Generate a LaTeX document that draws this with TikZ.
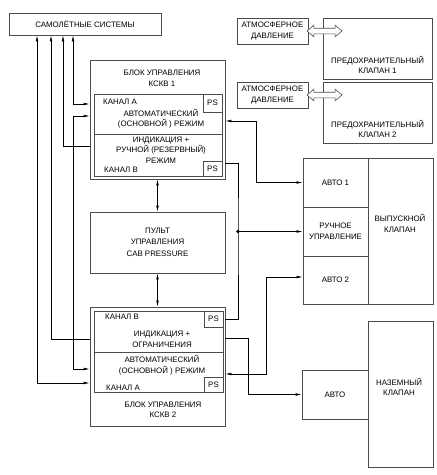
\documentclass[tikz,border=0pt]{standalone}
\usepackage{fontspec}
\setmainfont{Liberation Sans}
\usetikzlibrary{arrows.meta,shapes.arrows}
\begin{document}
\begin{tikzpicture}[
        x=1pt, y=-1pt,
        every node/.style={font=\fontsize{7.9}{10.5}\selectfont, inner sep=0pt, align=center},
        frame/.style={draw=black!70, line width=0.6pt, fill=white},
        wh/.style 2 args={minimum width=#1pt, minimum height=#2pt},
        chanlbl/.style={anchor=west},
        fatarr/.style={double arrow, draw=black!70, fill=white, line width=0.6pt,
          minimum height=35pt, inner sep=2.5pt, double arrow head extend=3pt,
          double arrow tip angle=80},
        link/.style={draw=black, line width=0.6pt},
        >={Latex[length=6pt,width=2.6pt]}
      ]
      \useasboundingbox (0,0) rectangle (437,475);
      \def\psw{19}
      \node[frame, wh={152}{22}] (sys) at (85,24) {САМОЛЁТНЫЕ СИСТЕМЫ};
      \node[frame, wh={135}{119}] (k1) at (157.5,119.5) {};
      \node (k1t) at (162,78.5) {БЛОК УПРАВЛЕНИЯ\\КСКВ 1};
      \node[frame, wh={128}{40}] (k1a) at (158,114) {};
      \node[frame, wh={128}{42}] (k1b) at (158,155) {};
      \node[frame, wh={\psw}{18}] (k1psa) at (212.5,103) {PS};
      \node[frame, wh={\psw}{15}] (k1psb) at (212.5,168.5) {PS};
      \node[chanlbl] (k1na) at (103,102) {КАНАЛ А};
      \node (k1aut) at (161,118.5) {АВТОМАТИЧЕСКИЙ\\(ОСНОВНОЙ ) РЕЖИМ};
      \node (k1ind) at (161,150) {ИНДИКАЦИЯ +\\РУЧНОЙ (РЕЗЕРВНЫЙ)\\РЕЖИМ};
      \node[chanlbl] (k1nb) at (104,170) {КАНАЛ В};
      \node[frame, wh={135}{61}] (pult) at (157.5,242.5) {ПУЛЬТ\\УПРАВЛЕНИЯ\\[1.5pt]CAB PRESSURE};
      \node[frame, wh={135}{119}] (k2) at (157.5,366.5) {};
      \node[frame, wh={129}{41}] (k2b) at (158.5,331.5) {};
      \node[frame, wh={129}{40}] (k2a) at (158.5,372) {};
      \node[frame, wh={\psw}{16}] (k2psb) at (213.5,319) {PS};
      \node[frame, wh={\psw}{15}] (k2psa) at (213.5,384.5) {PS};
      \node[chanlbl] (k2nb) at (105,317) {КАНАЛ В};
      \node (k2ind) at (162,339.5) {ИНДИКАЦИЯ +\\ОГРАНИЧЕНИЯ};
      \node (k2aut) at (162,365) {АВТОМАТИЧЕСКИЙ\\(ОСНОВНОЙ ) РЕЖИМ};
      \node[chanlbl] (k2na) at (106,388) {КАНАЛ А};
      \node (k2t) at (163,410) {БЛОК УПРАВЛЕНИЯ\\КСКВ 2};
      \foreach \i/\yy in {1/0, 2/64} {
        \node[frame, wh={71}{26}] (atm\i) at (272.5,31+\yy) {АТМОСФЕРНОЕ\\ДАВЛЕНИЕ};
        \node[frame, wh={109}{61}] (pk\i) at (377.5,48.5+\yy) {};
        \node (pk\i t) at (377.5,65+\yy) {ПРЕДОХРАНИТЕЛЬНЫЙ\\КЛАПАН \i};
        \node[fatarr] (pv\i) at (324.5,31+\yy) {};
      }
      \node[frame, wh={65}{49}] (vk1) at (335.5,182.5) {АВТО 1};
      \node[frame, wh={65}{49}] (vkr) at (335.5,231.5) {РУЧНОЕ\\УПРАВЛЕНИЕ};
      \node[frame, wh={65}{48}] (vk2) at (335.5,280) {АВТО 2};
      \node[frame, wh={65}{146}] (vkv) at (400.5,231) {};
      \node (vkvt) at (400,223.5) {ВЫПУСКНОЙ\\КЛАПАН};
      \node[frame, wh={66}{49}] (nav) at (335,394.5) {АВТО};
      \node[frame, wh={65}{146}] (nk) at (400.5,394) {};
      \node (nkt) at (399,387) {НАЗЕМНЫЙ\\КЛАПАН};
      \draw[link, <->] (sys.south -| 37,0) |- (k2.west |- 0,383);
      \draw[link, ->] (k2.west |- 0,339) -| (sys.south -| 51,0);
      \draw[link, ->] (k1.west |- 0,146) -| (sys.south -| 63,0);
      \draw[link, <->] (sys.south -| 73,0) |- (k1.west |- 0,104);
      \draw[link, <->] (k1.west |- 0,116) -- (73,116) |- (k2.west |- 0,369);
      \draw[link, <->] (k1.south) -- (pult.north);
      \draw[link, <->] (pult.south) -- (k2.north);
      \draw[link, <->] (k1.east |- 0,121) -| (256,182.5) -- (vk1.west);
      \coordinate (jn) at (vkr.west -| 238,0);
      \draw[link] (k1.east |- 0,163) -| (jn) |- (k2.east |- 0,319);
      \draw[link, ->] (jn) -- (vkr.west);
      \fill (jn) circle[radius=1.8pt];
      \draw[link, <->] (k2.east |- 0,374) -| (266,277) -- (vk2.west |- 0,277);
      \draw[link, ->] (k2.east |- 0,338) -| (248,394.5) -- (nav.west);
    \end{tikzpicture}
\end{document}
